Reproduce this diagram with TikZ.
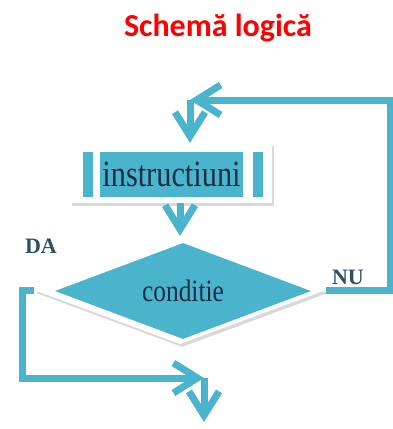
\documentclass[tikz,border=0pt]{standalone}
\usepackage{fontspec}
\setmainfont{Liberation Serif}
\newfontfamily\titlefont{Carlito}
\newfontfamily\boxfont[FakeStretch=0.82]{Liberation Serif}
\usetikzlibrary{arrows.meta, positioning, shapes.geometric, shadows}
\definecolor{flowcyan}{RGB}{75,180,205}
\definecolor{textnavy}{RGB}{25,45,70}
\definecolor{labelslate}{RGB}{45,80,100}
\definecolor{titlered}{RGB}{255,0,0}

\begin{document}
\begin{tikzpicture}[
    x=1pt, y=-1pt,
    shade/.style={drop shadow={shadow xshift=2pt, shadow yshift=-3pt, opacity=0.25, fill=black!60}},
    frame/.style={fill=white, shade, minimum width=202pt, minimum height=60pt, inner sep=0pt},
    procbox/.style={fill=flowcyan, minimum width=143pt, minimum height=45pt, inner sep=0pt,
        text=textnavy, font=\boxfont\fontsize{37}{40}\selectfont},
    sidebar/.style={fill=flowcyan, minimum width=10pt, minimum height=45pt, inner sep=0pt},
    decision/.style={diamond, aspect=2.7, inner sep=0pt},
    yesno/.style={text=labelslate, font=\bfseries\fontsize{22}{24}\selectfont, inner sep=0pt},
    flow/.style={draw=flowcyan, line width=7pt,
        -{Straight Barb[length=24pt, width=30pt]}}
]
\useasboundingbox (0,0) rectangle (393,429);

% Title
\node[font=\titlefont\bfseries\fontsize{32}{36}\selectfont, text=titlered, anchor=base]
    (title) at (218,36) {Schemă logică};

% Processing block
\node[frame] (instr) at (171,173) {};
\node[procbox] (instrtext) at (171.5,174.5) {instructiuni};
\node[sidebar] (barleft) at ([xshift=-84pt]instrtext.center) {};
\node[sidebar] (barright) at ([xshift=86pt]instrtext.center) {};

% Test block
\node[decision, fill=white, shade, minimum width=292pt, minimum height=108pt] (cond) at (180,290) {};
\node[decision, fill=flowcyan, minimum width=256pt, minimum height=96pt, text=textnavy,
    font=\boxfont\fontsize{31}{34}\selectfont] (condtext) at (183,291) {conditie};

% Branch labels
\node[yesno] (yes) at (41,246) {DA};
\node[yesno] (no) at (348,277) {NU};

% Loop points
\coordinate (loopin) at (190,100);
\coordinate (loopcorner) at (390,100);
\coordinate (yesjoin) at (204,378);
\coordinate (exit) at (204,422);

% Connectors
\draw[flow] (instr.south -| cond.north) -- (cond.north);
\draw[flow] (cond.east) -| (loopcorner) -- (loopin);
\draw[flow] (loopin) -- (loopin |- instr.north);
\draw[flow] (cond.west) -- ++(-11,0) |- (yesjoin);
\draw[flow] (yesjoin) -- (exit);

\end{tikzpicture}
\end{document}
